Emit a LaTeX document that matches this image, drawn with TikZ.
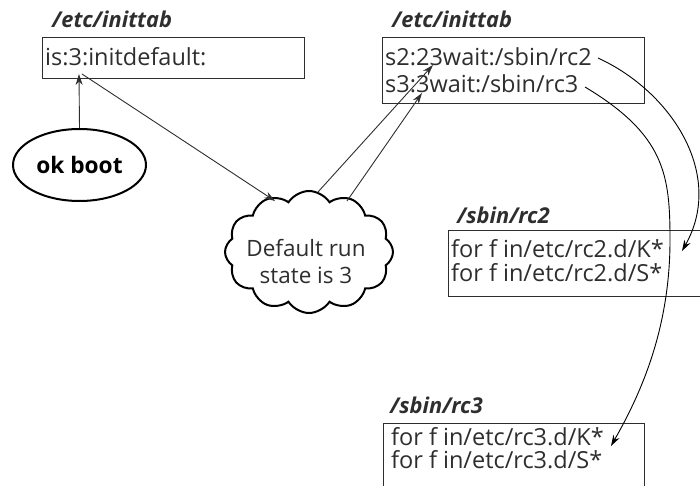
\documentclass[tikz,border=0pt]{standalone}
\usepackage{fontspec}
\setmainfont{Open Sans}
\usetikzlibrary{shapes.geometric,shapes.symbols,arrows.meta}
\definecolor{ink}{HTML}{2E2E2E}
\begin{document}
\begin{tikzpicture}[x=1pt,y=-1pt,
  box/.style={draw=ink, line width=1pt, rectangle, inner sep=0pt, anchor=north west},
  body/.style={anchor=base west, inner sep=0pt, text=ink, font=\fontsize{23.5}{28}\selectfont},
  title/.style={anchor=base west, inner sep=0pt, text=ink, font=\fontsize{21.8}{26}\selectfont\bfseries\itshape},
  arr/.style={draw=ink, line width=0.9pt, -{Stealth[length=11pt,width=7pt]}},
  curve/.style={draw=black, line width=0.9pt, -{Stealth[length=11pt,width=7pt]}},
  bubble/.style={draw=black, line width=2pt}
]
\useasboundingbox (0,0) rectangle (700,486);
\clip (0,0) rectangle (700,486);
% boxes
\node[box, minimum width=262pt, minimum height=41pt] (b1) at (42,37) {};
\node[box, minimum width=262pt, minimum height=66pt] (b2) at (382,37) {};
\node[box, minimum width=280pt, minimum height=66pt] (b3) at (448,230) {};
\node[box, minimum width=261pt, minimum height=80pt] (b4) at (383,423) {};
% titles
\node[title] (t1) at (52,28) {/etc/inittab};
\node[title] (t2) at (392,28) {/etc/inittab};
\node[title] (t3) at (457,223) {/sbin/rc2};
\node[title] (t4) at (390,413) {/sbin/rc3};
% body text
\node[body] (l1) at (45,66) {is:3:initdefault:};
\node[body] (l2) at (385,66) {s2:23wait:/sbin/rc2};
\node[body] (l3) at (385,93) {s3:3wait:/sbin/rc3};
\node[body] (l4) at (451,257) {for f in/etc/rc2.d/K*};
\node[body] (l5) at (451,281) {for f in/etc/rc2.d/S*};
\node[body] (l6) at (391,445) {for f in/etc/rc3.d/K*};
\node[body] (l7) at (391,468) {for f in/etc/rc3.d/S*};
% ellipse and cloud
\node[bubble, ellipse, minimum width=133pt, minimum height=72pt, inner sep=0pt, font=\fontsize{22.7}{26}\selectfont\bfseries] (ok) at (79.5,165) {ok boot};
\node[bubble, cloud, cloud puffs=12, cloud puff arc=115, cloud ignores aspect, minimum width=168pt, minimum height=122pt, inner sep=0pt] (cl) at (309,252) {};
\node[anchor=base, inner sep=0pt, text=ink, font=\fontsize{22.5}{27}\selectfont] (cl1) at (306,256) {Default run};
\node[anchor=base, inner sep=0pt, text=ink, font=\fontsize{22.5}{27}\selectfont] (cl2) at (306,283) {state is 3};
% coordinates
\coordinate (a1) at (79,74);
\coordinate (a2s) at (82,74);
\coordinate (a2e) at (275,201);
\coordinate (c1s) at (318,192);
\coordinate (c1e) at (433,65);
\coordinate (c2s) at (347,201);
\coordinate (c2e) at (422,93);
\coordinate (r2s) at (598,58);
\coordinate (r2e) at (682,251);
\coordinate (r3s) at (585,87);
\coordinate (r3m) at (670,240);
\coordinate (r3e) at (611,446);
% connectors
\draw[arr] (ok.north) -- (a1);
\draw[arr] (a2s) -- (a2e);
\draw[arr] (c1s) -- (c1e);
\draw[arr] (c2s) -- (c2e);
\draw[curve] (r2s) .. controls (672,92) and (725,175) .. (r2e);
\draw[curve] (r3s) .. controls (665,135) and (670,175) .. (r3m) .. controls (670,330) and (640,395) .. (r3e);
\end{tikzpicture}
\end{document}
